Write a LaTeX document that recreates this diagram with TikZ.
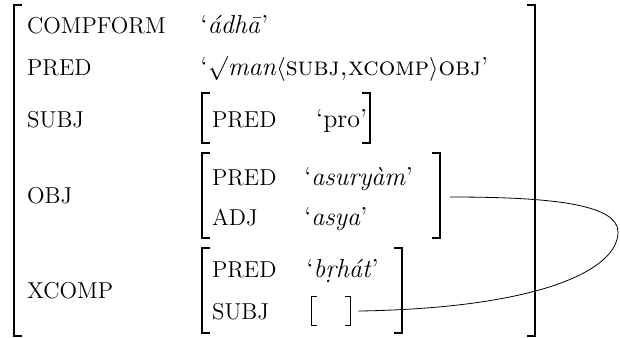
\documentclass[tikz,border=0pt]{standalone}
\usepackage{amsmath,amssymb}
\usepackage{xcolor}
\usepackage{tikz}

\tikzset{
  attr/.style={anchor=base west, inner sep=0pt},
  val/.style={attr, font=\fontsize{13pt}{15pt}\selectfont},
  brk/.style={line width=0.7pt},
}

\begin{document}
\begin{tikzpicture}[font=\fontsize{11.5pt}{14pt}\selectfont]
  \useasboundingbox (0,0) rectangle (10.896,-5.923);
  % outer f-structure
  \draw[brk] (0.39,-0.088) -- (0.246,-0.088) -- (0.246,-5.905) -- (0.39,-5.905);
  \draw[brk] (9.26,-0.088) -- (9.402,-0.088) -- (9.402,-5.905) -- (9.26,-5.905);
  \node[attr] (compform) at (0.47,-0.58) {COMPFORM};
  \node[attr] (pred) at (0.47,-1.318) {PRED};
  \node[attr] (subj) at (0.47,-2.232) {SUBJ};
  \node[attr] (obj) at (0.47,-3.568) {OBJ};
  \node[attr] (xcomp) at (0.47,-5.237) {XCOMP};
  \node[val] (compformval) at (3.52,-0.58) {`\textit{\'adh\=a}'};
  \node[val] (predval) at (3.52,-1.318)
    {`$\surd$\textit{man}$\langle$\textsc{subj,xcomp}$\rangle$\textsc{obj}'};
  % subj
  \draw[brk] (3.69,-1.634) -- (3.55,-1.634) -- (3.55,-2.513) -- (3.69,-2.513);
  \draw[brk] (6.363,-1.634) -- (6.503,-1.634) -- (6.503,-2.513) -- (6.363,-2.513);
  \node[attr] (subjpred) at (3.72,-2.232) {PRED};
  \node[val] (subjpredval) at (5.55,-2.232) {`pro'};
  % obj
  \draw[brk] (3.69,-2.689) -- (3.55,-2.689) -- (3.55,-4.183) -- (3.69,-4.183);
  \draw[brk] (7.593,-2.689) -- (7.733,-2.689) -- (7.733,-4.183) -- (7.593,-4.183);
  \node[attr] (objpred) at (3.72,-3.251) {PRED};
  \node[attr] (objadj) at (3.72,-3.954) {ADJ};
  \node[val] (objpredval) at (5.34,-3.251) {`\textit{asury\`am}'};
  \node[val] (objadjval) at (5.34,-3.954) {`\textit{asya}'};
  \coordinate (objfs) at (7.909,-3.462);
  % xcomp
  \draw[brk] (3.69,-4.359) -- (3.55,-4.359) -- (3.55,-5.852) -- (3.69,-5.852);
  \draw[brk] (6.925,-4.359) -- (7.065,-4.359) -- (7.065,-5.852) -- (6.925,-5.852);
  \node[attr] (xcomppred) at (3.72,-4.868) {PRED};
  \node[attr] (xcompsubj) at (3.72,-5.606) {SUBJ};
  \node[val] (xcomppredval) at (5.38,-4.868) {`\textit{b\d{r}h\'at}'};
  % empty f-structure, shared with obj
  \node[minimum width=0.67cm, minimum height=0.49cm, inner sep=0pt] (emptyfs) at (5.817,-5.466) {};
  \draw[thin] ([xshift=2.5pt]emptyfs.north west) -| (emptyfs.south west) -- ++(2.5pt,0);
  \draw[thin] ([xshift=-2.5pt]emptyfs.north east) -| (emptyfs.south east) -- ++(-2.5pt,0);
  % structure sharing
  \coordinate (rim) at (10.861,-4.077);
  \draw[thin] (objfs) .. controls (9.578,-3.462) and (10.861,-3.568) .. (rim)
    .. controls (10.861,-4.745) and (9.49,-5.413) .. ([xshift=4pt]emptyfs.east);
\end{tikzpicture}
\end{document}
